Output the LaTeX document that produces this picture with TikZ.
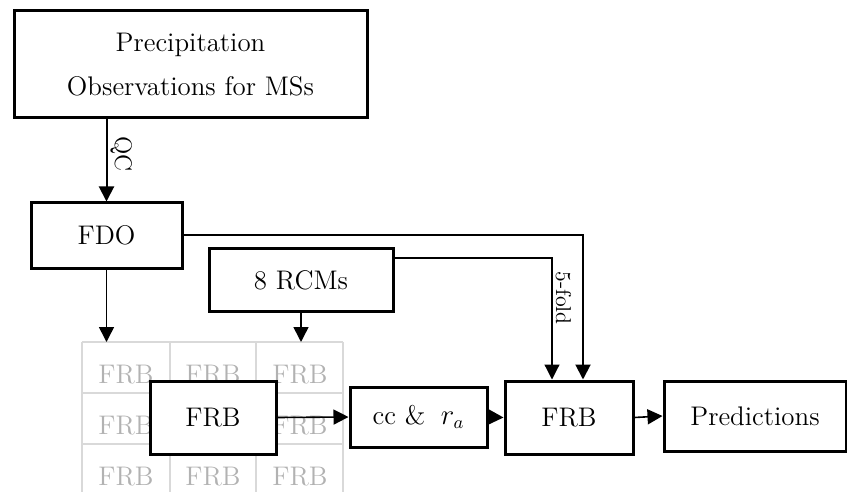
\documentclass[tikz,border=0pt]{standalone}
\usetikzlibrary{arrows.meta}
\begin{document}
\begin{tikzpicture}[x=0.5pt,y=-0.5pt,
  box/.style={draw,line width=1.5pt,fill=white,inner sep=0pt,align=center,font=\fontsize{13.45}{22}\selectfont},
  cell/.style={draw=black!15,line width=1.3pt},
  ghost/.style={text=black!30,anchor=base,inner sep=0pt,font=\fontsize{13.45}{16}\selectfont},
  flow/.style={-{Triangle[width=7.5pt,length=7.5pt]},line width=1pt},
  tag/.style={rotate=-90,anchor=south,inner sep=1.5pt}]
  \useasboundingbox (0,0) rectangle (847,492);

  % background matrix of rule bases (middle cell is covered)
  \foreach \x in {82,170,256,343} \draw[cell] (\x,342)--(\x,495);
  \foreach \y in {342,393,444} \draw[cell] (82,\y)--(343,\y);
  \foreach \x/\y in {126/383,213/383,300/383,126/434,300/434,126/485,213/485,300/485}
    \node[ghost] at (\x,\y) {FRB};
  \coordinate (gtop) at (0,342);

  \node[box,minimum width=176.5pt,minimum height=53.5pt] (obs) at (190.5,64.5) {Precipitation\\Observations for MSs};
  \node[box,minimum width=75.5pt,minimum height=32.5pt] (fdo) at (106.5,235.5) {FDO};
  \node[box,minimum width=92pt,minimum height=31pt] (rcm) at (301,280) {8 RCMs};
  \node[box,minimum width=63pt,minimum height=36.5pt] (frbA) at (213,417.5) {FRB};
  \node[box,minimum width=68.5pt,minimum height=30pt] (cc) at (418.5,417) {cc \&\hspace{0.25em} $r_a$};
  \node[box,minimum width=64pt,minimum height=36.5pt] (frbB) at (569,417.5) {FRB};
  \node[box,minimum width=91pt,minimum height=35pt] (pred) at (755,416) {Predictions};

  \draw[flow] (obs.south -| fdo) -- (fdo.north) node[tag,pos=0.42,font=\fontsize{12}{14}\selectfont] {QC};
  \draw[flow,line width=0.8pt] (fdo.south) -- (fdo.south |- gtop);
  \draw[flow,line width=0.8pt] (rcm.south) -- (rcm.south |- gtop);
  \draw[flow] (fdo.east) -| ([xshift=7pt]frbB.north);
  \draw[flow,line width=0.6pt] ([yshift=11pt]rcm.east) -| ([xshift=-8.5pt]frbB.north)
    node[tag,pos=0.665,font=\fontsize{10.7}{13}\selectfont] {5-fold};
  \draw[flow,line width=0.8pt] (frbA.east) -- (cc.west);
  \draw[flow,line width=0.8pt] (cc.east) -- (frbB.west);
  \draw[flow,line width=0.8pt] (frbB.east) -- (pred.west);

\end{tikzpicture}
\end{document}
